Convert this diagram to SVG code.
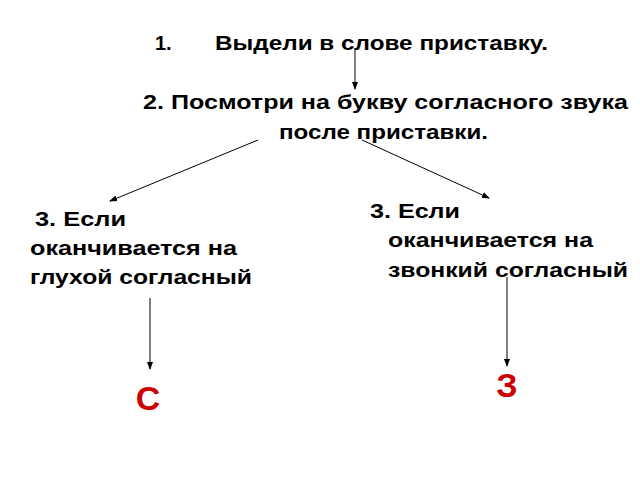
<svg xmlns="http://www.w3.org/2000/svg" width="640" height="480" viewBox="0 0 640 480">
<style>
.t{font-family:"Liberation Sans",Arial,sans-serif;font-weight:bold;font-size:20px;fill:#000}
.r{font-family:"Liberation Sans",Arial,sans-serif;font-weight:bold;font-size:34px;fill:#cc0000}
.c{stroke:#000;stroke-width:1;fill:none;marker-end:url(#a)}
</style>
<defs><marker id="a" markerWidth="8" markerHeight="8" refX="7" refY="4" orient="auto" markerUnits="userSpaceOnUse"><path d="M0,1 L8,4 L0,7 Z" fill="#000"/></marker></defs>
<rect width="640" height="480" fill="#fff"/>
<g id="step1"><text class="t" x="155" y="50">1.</text><text class="t" x="215" y="50" textLength="333" lengthAdjust="spacingAndGlyphs">Выдели в слове приставку.</text></g>
<g id="step2"><text class="t" x="143" y="109" textLength="485" lengthAdjust="spacingAndGlyphs">2. Посмотри на букву согласного звука</text><text class="t" x="279" y="139" textLength="209" lengthAdjust="spacingAndGlyphs">после приставки.</text></g>
<g id="left"><text class="t" x="35" y="226" textLength="91" lengthAdjust="spacingAndGlyphs">3. Если</text><text class="t" x="30" y="255" textLength="207" lengthAdjust="spacingAndGlyphs">оканчивается на</text><text class="t" x="30" y="284" textLength="222" lengthAdjust="spacingAndGlyphs">глухой согласный</text></g>
<g id="right"><text class="t" x="370" y="218" textLength="90" lengthAdjust="spacingAndGlyphs">3. Если</text><text class="t" x="388" y="247" textLength="205" lengthAdjust="spacingAndGlyphs">оканчивается на</text><text class="t" x="388" y="277" textLength="240" lengthAdjust="spacingAndGlyphs">звонкий согласный</text></g>
<g id="s"><text class="r" x="148" y="410" text-anchor="middle">С</text></g>
<g id="z"><text class="r" x="507" y="397" text-anchor="middle">З</text></g>
<g id="connectors">
<line class="c" x1="355" y1="48" x2="355" y2="89"/>
<line class="c" x1="258" y1="140" x2="110" y2="201"/>
<line class="c" x1="362" y1="140" x2="489" y2="198"/>
<line class="c" x1="150" y1="298" x2="150" y2="369"/>
<line class="c" x1="507" y1="277" x2="507" y2="366"/>
</g>
</svg>
